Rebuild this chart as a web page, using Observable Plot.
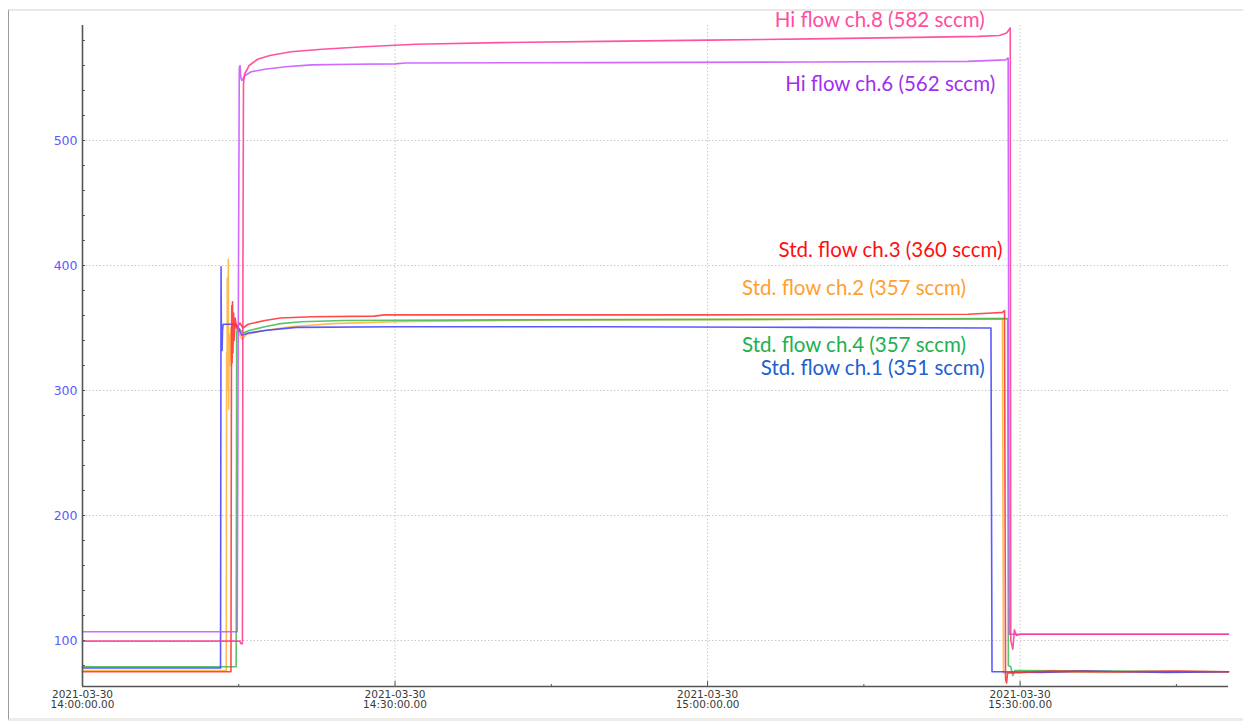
<!DOCTYPE html>
<html><head><meta charset="utf-8">
<script src="https://cdn.jsdelivr.net/npm/d3@7"></script>
<script src="https://cdn.jsdelivr.net/npm/@observablehq/plot@0.6"></script>
<style>
html,body{margin:0;padding:0;background:#fff;}
#wrap{position:relative;width:1243px;height:721px;overflow:hidden;background:#fff;}
#chart{position:absolute;left:0;top:0;}
#border{position:absolute;left:8px;top:9px;width:1240px;height:712px;border-left:1px solid #9a9a9a;border-top:2px solid #ebe7e3;border-bottom:3px solid #efebe7;box-sizing:border-box;pointer-events:none;}
</style></head><body>
<div id="wrap"><div id="border"></div><div id="chart"></div></div>
<script>
// time in minutes after 2021-03-30 14:00:00, value in sccm
const ch1 = [[0,78],[13.25,78],[13.3,399],[13.33,338],[13.36,350],[13.4,332],[13.44,348],[13.5,353],[14.0,353],[14.7,353],[15.0,349],[15.3,344],[15.9,346],[17.5,348],[20.5,350.5],[30,351],[50,351],[70,350.5],[87.2,350],[87.3,75],[88.2,75],[92,74.5],[96,75.5],[100,75],[104,74.5],[110,75]];
const ch2 = [[0,76],[13.8,76],[13.83,330],[13.87,300],[13.9,390],[13.95,330],[14.0,405],[14.03,285],[14.08,345],[14.15,320],[14.25,350],[14.5,352],[14.9,348],[15.3,341],[15.8,345],[17.5,348],[20,351],[24,353.5],[30,355],[45,356.5],[70,357],[88.3,357.5],[88.4,74],[92,75],[98,74.5],[104,75],[110,75]];
const ch3 = [[0,75],[14.25,75],[14.3,340],[14.33,368],[14.36,322],[14.4,371],[14.44,330],[14.5,362],[14.55,340],[14.65,358],[14.8,350],[15.1,354],[15.4,350],[15.9,353],[17.5,356],[19,358],[22,359],[28,359.5],[29,360.5],[60,360.5],[85,361],[87.3,362],[88.3,362.5],[88.5,364],[88.6,69],[88.7,66],[88.8,74],[93,75.5],[99,75],[105,75.5],[110,75]];
const ch4 = [[0,79],[14.75,79],[14.8,347],[15.0,350],[15.4,346],[16,348],[17.5,351],[19,353.5],[21,355],[25,356],[40,356.5],[70,357],[88.8,357.5],[88.87,80],[89.1,79],[89.3,72],[89.5,76],[110,75]];
const ch6 = [[0,107],[14.85,107],[14.95,350],[15.05,558],[15.12,560],[15.2,550],[15.3,548],[15.6,552],[16.2,555],[17.5,557],[19.5,559],[22,560.5],[26,561],[30,561.3],[31,562],[50,562.3],[70,562.8],[85,563.3],[88.6,564.5],[88.85,566],[88.95,105],[110,105]];
const ch8 = [[0,99.5],[15.1,99.5],[15.2,97.5],[15.35,97.5],[15.4,400],[15.45,545],[15.55,553],[16,560],[16.8,565],[18,568],[20,571],[23,573],[27,575],[32,577],[40,578.3],[50,579.3],[60,580.3],[70,581.3],[80,582.5],[86,583.3],[88,584],[88.7,586],[89.05,590],[89.1,100],[89.3,93],[89.45,108.5],[89.65,104],[90,105],[110,105]];

const channelNames = ["Std. flow ch.2","Std. flow ch.4","Std. flow ch.1","Std. flow ch.3","Hi flow ch.6","Hi flow ch.8"];
const channelData = [ch2, ch4, ch1, ch3, ch6, ch8];
const lineColors = ["#ffb030","#40b850","#3c3cff","#ff2a2a","#c850ff","#ff3592"];

const labelTexts = ["Hi flow ch.8 (582 sccm)","Hi flow ch.6 (562 sccm)","Std. flow ch.3 (360 sccm)","Std. flow ch.2 (357 sccm)","Std. flow ch.4 (357 sccm)","Std. flow ch.1 (351 sccm)"];
const labelTimes = [86.6, 87.6, 88.3, 84.8, 84.8, 86.6];
const labelValues = [595.8, 544.8, 412, 381.6, 336, 317.6];
const labelColors = ["#ff4da0","#a030f0","#ff1010","#ffa030","#20b050","#2060d0"];

const yLabelTicks = [100,200,300,400,500];
const yMinorTicks = d3.range(80, 600, 20);
const xMajorMinutes = [0,30,60,90];
const xMinorMinutes = [15,45,75,105];
const xDomainMinutes = [0,110];
const yDomain = [63.2,592];

const T0 = Date.UTC(2021,2,30,14,0,0);
const toDate = m => new Date(T0 + m*60000);

const W = 1243, H = 721, mL = 82, mR = 15, mT = 25, mB = 35;
const pw = W - mL - mR, ph = H - mT - mB;

const fmtD = d3.utcFormat("%Y-%m-%d"), fmtT = d3.utcFormat("%H:%M:%S");

const marks = [
  Plot.gridY(yLabelTicks, {stroke:"#c8c8c8", strokeOpacity:1, strokeDasharray:"1.5,2"}),
  Plot.gridX(xMajorMinutes.slice(1).map(toDate), {stroke:"#c8c8c8", strokeOpacity:1, strokeDasharray:"1.5,2"}),
];
channelData.forEach((arr, i) => {
  marks.push(Plot.line(arr, {x: d => toDate(d[0]), y: d => d[1], stroke: lineColors[i], strokeWidth: 1.6, strokeOpacity: 0.85, curve: "linear"}));
});
marks.push(
  Plot.ruleX([toDate(xDomainMinutes[0])], {stroke:"#555", strokeWidth:1.6}),
  Plot.ruleY([yDomain[0]], {stroke:"#555", strokeWidth:1.6}),
  Plot.tickY(yMinorTicks, {y: d => d, stroke:"#555", insetRight: pw - 3}),
  Plot.tickX(xMajorMinutes.map(toDate), {x: d => d, stroke:"#555", insetTop: ph - 5}),
  Plot.tickX(xMinorMinutes.map(toDate), {x: d => d, stroke:"#555", insetTop: ph - 2}),
  Plot.axisY(yLabelTicks, {tickSize:0, tickPadding:5, fill:"#5a5aff", fontSize:12.5, fontFamily:"DejaVu Sans"}),
  Plot.axisX(xMajorMinutes.map(toDate), {tickSize:0, tickPadding:4, fill:"#3a3a3a", fontSize:10.5, fontFamily:"DejaVu Sans",
    tickFormat: d => fmtD(d) + "\n" + fmtT(d) + ".00"})
);
labelTexts.forEach((t, i) => {
  marks.push(Plot.text([t], {x: () => toDate(labelTimes[i]), y: () => labelValues[i], text: d => d, fill: labelColors[i],
    textAnchor:"end", lineAnchor:"middle", fontSize:20.5, fontFamily:"Lato"}));
});

const chart = Plot.plot({
  width: W, height: H,
  marginLeft: mL, marginRight: mR, marginTop: mT, marginBottom: mB,
  style: {background:"transparent", fontFamily:"DejaVu Sans", overflow:"visible"},
  x: {type:"utc", domain: xDomainMinutes.map(toDate), axis: null},
  y: {domain: yDomain, axis: null},
  marks
});
document.getElementById("chart").appendChild(chart);
</script>
</body></html>
